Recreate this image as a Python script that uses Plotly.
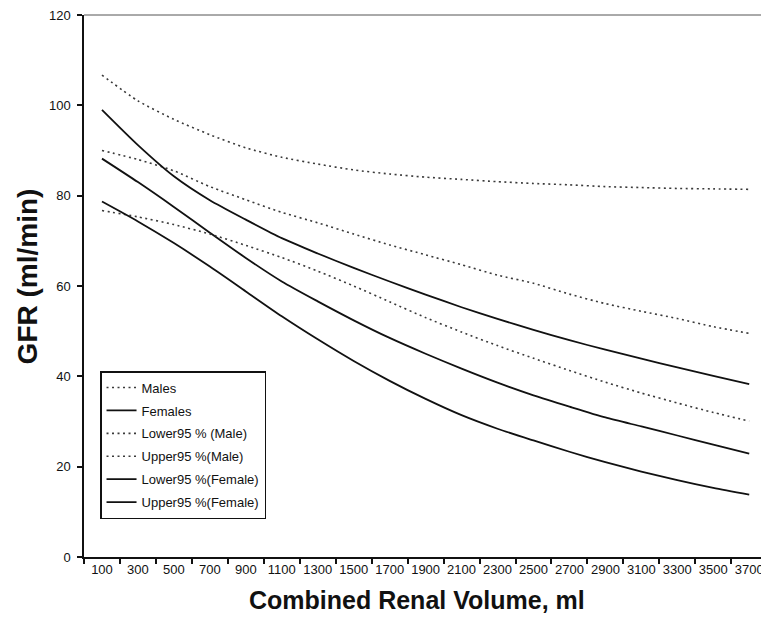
import plotly.graph_objects as go

# Combined renal volume categories (ml)
volume = [100, 300, 500, 700, 900, 1100, 1300, 1500, 1700, 1900,
          2100, 2300, 2500, 2700, 2900, 3100, 3300, 3500, 3700]
tick_labels = [str(v) for v in volume]

# GFR (ml/min)
males = [90.0, 88.0, 85.5, 82.0, 79.1, 76.3, 74.0, 71.5, 69.1, 66.9,
         64.7, 62.4, 60.6, 58.2, 56.1, 54.4, 52.8, 51.0, 49.5]
females = [88.2, 83.0, 77.5, 71.8, 66.2, 61.0, 56.6, 52.4, 48.5, 45.0,
           41.7, 38.6, 35.8, 33.3, 30.9, 28.9, 26.9, 24.9, 22.9]
lower_male = [76.7, 75.3, 73.6, 71.5, 69.0, 66.3, 63.3, 60.0, 56.5, 53.0,
              49.8, 46.8, 44.0, 41.3, 38.7, 36.3, 34.1, 32.0, 30.1]
upper_male = [106.7, 101.0, 96.9, 93.5, 90.6, 88.5, 87.0, 85.7, 84.8, 84.1,
              83.6, 83.1, 82.7, 82.4, 82.0, 81.8, 81.6, 81.5, 81.4]
lower_female = [78.7, 74.3, 69.5, 64.3, 58.8, 53.3, 48.2, 43.4, 39.0, 35.0,
                31.4, 28.4, 25.8, 23.3, 21.0, 18.9, 17.0, 15.3, 13.8]
upper_female = [99.0, 91.2, 84.3, 79.0, 74.7, 70.6, 67.2, 64.0, 61.0, 58.1,
                55.3, 52.7, 50.3, 48.0, 45.9, 43.9, 42.0, 40.1, 38.3]

names = ["Males", "Females", "Lower95 % (Male)", "Upper95 %(Male)",
         "Lower95 %(Female)", "Upper95 %(Female)"]
values = [males, females, lower_male, upper_male, lower_female, upper_female]
dotted = [True, False, True, True, False, False]

FONT = "Liberation Sans, Arial, sans-serif"

fig = go.Figure()
for name, vals, is_dot in zip(names, values, dotted):
    fig.add_trace(go.Scatter(
        x=volume, y=vals, mode="lines", name=name, legendgroup=name,
        line=dict(color="#3a3a3a" if is_dot else "#111111",
                  width=1.6 if is_dot else 1.8,
                  dash="2px,3.5px" if is_dot else "solid",
                  shape="spline", smoothing=0.7),
        hoverinfo="x+y+name",
    ))

fig.update_layout(
    width=761, height=612,
    margin=dict(l=76, r=0, t=7, b=63, autoexpand=False),
    paper_bgcolor="white", plot_bgcolor="white",
    font=dict(family=FONT, color="#111111"),
    showlegend=True,
    legend=dict(
        x=0.0234, y=0.343, xanchor="left", yanchor="top",
        bgcolor="white", bordercolor="#111111", borderwidth=1.5,
        font=dict(size=13, family=FONT, color="#111111"),
        traceorder="grouped", tracegroupgap=3, itemwidth=30,
    ),
    xaxis=dict(
        range=[0, 3810], tickmode="array", tickvals=volume, ticktext=tick_labels,
        ticks="", tickangle=0, tickfont=dict(size=13, family=FONT, color="#111111"),
        ticklabelstandoff=0, automargin=False, ticklabeloverflow="allow",
        showline=True, linecolor="#111111", linewidth=1.5,
        showgrid=False, zeroline=False,
        minor=dict(tickmode="linear", tick0=0, dtick=200, ticks="outside",
                   ticklen=5, tickwidth=1.5, tickcolor="#111111", showgrid=False),
    ),
    yaxis=dict(
        range=[0, 120], tickmode="linear", tick0=0, dtick=20,
        ticks="outside", ticklen=5, tickwidth=1.5, tickcolor="#111111",
        tickfont=dict(size=13, family=FONT, color="#111111"),
        ticklabelstandoff=4, automargin=False, ticklabeloverflow="allow",
        showline=True, linecolor="#111111", linewidth=1.5,
        showgrid=False, zeroline=False,
    ),
    shapes=[dict(type="line", xref="paper", yref="paper", x0=0, x1=1, y0=1, y1=1,
                 line=dict(color="#555555", width=1))],
    annotations=[
        dict(text="<b>Combined Renal Volume, ml</b>", xref="paper", yref="paper",
             x=0.486, y=-0.08, xanchor="center", yanchor="middle", showarrow=False,
             font=dict(size=25, family=FONT, color="#111111")),
        dict(text="<b>GFR (ml/min)</b>", xref="paper", yref="paper",
             x=-0.083, y=0.518, xanchor="center", yanchor="middle", showarrow=False,
             textangle=-90, font=dict(size=28, family=FONT, color="#111111")),
    ],
)

fig.write_html("out.html")
